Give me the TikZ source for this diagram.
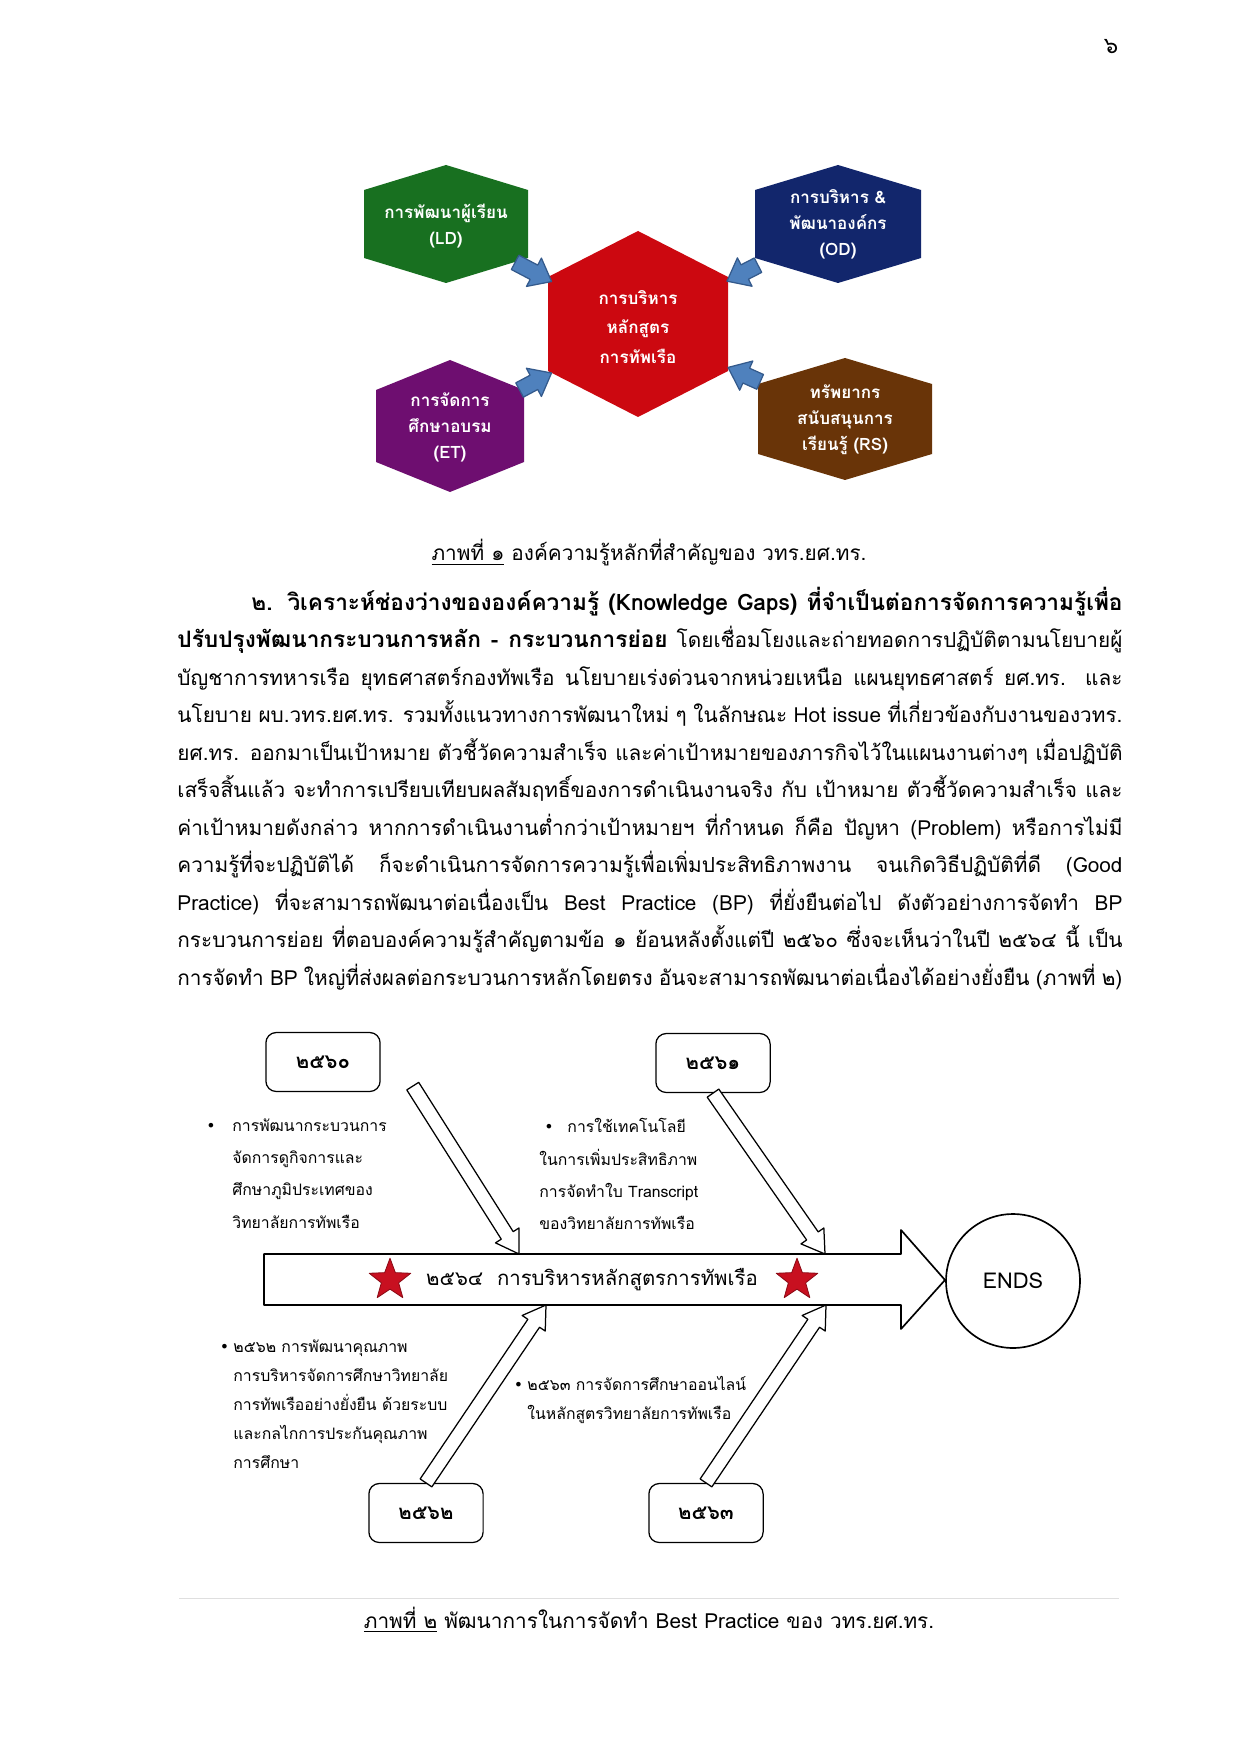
\documentclass[tikz,border=0pt]{standalone}
\usepackage{fontspec}
\setmainfont{Loma}[Script=Thai]
\newfontfamily\symfont{DejaVu Sans}
\usepackage{tikz}
\usetikzlibrary{calc,shapes.geometric}
\definecolor{ldgreen}{RGB}{24,112,32}
\definecolor{odnavy}{RGB}{18,38,108}
\definecolor{hubred}{RGB}{204,8,16}
\definecolor{etpurple}{RGB}{110,14,112}
\definecolor{rsbrown}{RGB}{105,52,8}
\definecolor{arrowblue}{RGB}{79,129,189}
\definecolor{arrowedge}{RGB}{52,90,140}
\definecolor{starred}{RGB}{200,16,32}

\newcommand{\jline}[2]{\makebox[#1][s]{#2}}
\newcommand{\headfont}{\fontsize{10.9}{12}\selectfont\bfseries}
% style, from, to, shaft half width, head half width, head length
\newcommand{\blockarrow}[6]{%
  \coordinate (ba-a) at #2;
  \coordinate (ba-b) at #3;
  \coordinate (ba-h) at ($(ba-b)!#6!(ba-a)$);
  \draw[#1] ($(ba-a)!#4!90:(ba-b)$) -- ($(ba-h)!#4!90:(ba-b)$) -- ($(ba-h)!#5!90:(ba-b)$) -- (ba-b)
    -- ($(ba-h)!#5!-90:(ba-b)$) -- ($(ba-h)!#4!-90:(ba-b)$) -- ($(ba-a)!#4!-90:(ba-b)$) -- cycle;
}

\begin{document}
\begin{tikzpicture}[x=0.16922mm,y=-0.16922mm,line join=round,
  hextext/.style={text=white,font=\bfseries\fontsize{8.2}{12.5}\selectfont,align=center},
  yearbox/.style={draw,line width=0.6pt,rounded corners=5pt,minimum width=55pt,minimum height=28.4pt,font=\bfseries\fontsize{9.8}{12}\selectfont},
  note/.style={anchor=north west,align=left,inner sep=0pt,font=\fontsize{7.6}{15.6}\selectfont},
  redstar/.style={star,star points=5,star point ratio=2.4,fill=starred,draw=starred!70!black,minimum size=21pt,inner sep=0pt},
  caption/.style={font=\fontsize{10}{12}\selectfont}]
  \useasboundingbox (0,0) rectangle (1241,1754);
  \fill[white] (0,0) rectangle (1241,1754);

  \node[font=\fontsize{11}{13}\selectfont] (pageno) at (1111,47) {๖};

  % figure 1
  \foreach \cx/\cy/\w/\h/\s/\col in {446/224/82/59/34/ldgreen, 838/224/83/59/34/odnavy, 638/324/90/93/47/hubred, 450/426/74/66/36/etpurple, 845/419/87/61/35/rsbrown}
    \fill[\col] (\cx-\w,\cy-\s) -- (\cx,\cy-\h) -- (\cx+\w,\cy-\s) -- (\cx+\w,\cy+\s) -- (\cx,\cy+\h) -- (\cx-\w,\cy+\s) -- cycle;
  \node[hextext] (ld) at (446,226) {การพัฒนาผู้เรียน\\(LD)};
  \node[hextext] (od) at (838,224) {การบริหาร \&\\พัฒนาองค์กร\\(OD)};
  \node[hextext,font=\bfseries\fontsize{8.2}{14.4}\selectfont] (hub) at (638,327) {การบริหาร\\หลักสูตร\\การทัพเรือ};
  \node[hextext] (et) at (450,427) {การจัดการ\\ศึกษาอบรม\\(ET)};
  \node[hextext] (rs) at (845,420) {ทรัพยากร\\สนับสนุนการ\\เรียนรู้ (RS)};
  \foreach \from/\a/\b in {ld/0.36/0.55, od/0.40/0.555, et/0.37/0.54, rs/0.41/0.565}
    {\blockarrow{fill=arrowblue,draw=arrowedge,line width=0.6pt}{($(\from)!\a!(hub)$)}{($(\from)!\b!(hub)$)}{3.9pt}{7.7pt}{9.6pt}}

  \node[caption] (cap1) at (649,553) {\underline{ภาพที่ ๑} องค์ความรู้หลักที่สำคัญของ วทร.ยศ.ทร.};

  % text
  \foreach \i/\x/\w/\txt in {
    1/251/419.4pt/{\headfont ๒. วิเคราะห์ช่องว่างขององค์ความรู้ (Knowledge Gaps) ที่จำเป็นต่อการจัดการความรู้เพื่อ},
    2/177/455pt/{{\headfont ปรับปรุงพัฒนากระบวนการหลัก - กระบวนการย่อย} โดยเชื่อมโยงและถ่ายทอดการปฏิบัติตามนโยบายผู้},
    3/177/455pt/{บัญชาการทหารเรือ ยุทธศาสตร์กองทัพเรือ นโยบายเร่งด่วนจากหน่วยเหนือ แผนยุทธศาสตร์ ยศ.ทร. และ},
    4/177/455pt/{นโยบาย ผบ.วทร.ยศ.ทร. รวมทั้งแนวทางการพัฒนาใหม่ ๆ ในลักษณะ Hot issue ที่เกี่ยวข้องกับงานของวทร.},
    5/177/455pt/{ยศ.ทร. ออกมาเป็นเป้าหมาย ตัวชี้วัดความสำเร็จ และค่าเป้าหมายของภารกิจไว้ในแผนงานต่างๆ เมื่อปฏิบัติ},
    6/177/455pt/{เสร็จสิ้นแล้ว จะทำการเปรียบเทียบผลสัมฤทธิ์ของการดำเนินงานจริง กับ เป้าหมาย ตัวชี้วัดความสำเร็จ และ},
    7/177/455pt/{ค่าเป้าหมายดังกล่าว หากการดำเนินงานต่ำกว่าเป้าหมายฯ ที่กำหนด ก็คือ ปัญหา (Problem) หรือการไม่มี},
    8/177/455pt/{ความรู้ที่จะปฏิบัติได้ ก็จะดำเนินการจัดการความรู้เพื่อเพิ่มประสิทธิภาพงาน จนเกิดวิธีปฏิบัติที่ดี (Good},
    9/177/455pt/{Practice) ที่จะสามารถพัฒนาต่อเนื่องเป็น Best Practice (BP) ที่ยั่งยืนต่อไป ดังตัวอย่างการจัดทำ BP},
    10/177/455pt/{กระบวนการย่อย ที่ตอบองค์ความรู้สำคัญตามข้อ ๑ ย้อนหลังตั้งแต่ปี ๒๕๖๐ ซึ่งจะเห็นว่าในปี ๒๕๖๔ นี้ เป็น},
    11/177/455pt/{การจัดทำ BP ใหญ่ที่ส่งผลต่อกระบวนการหลักโดยตรง อันจะสามารถพัฒนาต่อเนื่องได้อย่างยั่งยืน (ภาพที่ ๒)}}
    \node[anchor=base west,inner sep=0pt,font=\fontsize{10}{12}\selectfont] (body\i) at (\x,{610+37.5*(\i-1)}) {\jline{\w}{\txt}};

  % figure 2
  \draw[line width=0.8pt,fill=white] (264,1254) -- (901,1254) -- (901,1230) -- (945,1280) -- (901,1329) -- (901,1305) -- (264,1305) -- cycle;
  \node[font=\fontsize{9.8}{12}\selectfont] (goal) at (592,1280) {๒๕๖๔\ \ การบริหารหลักสูตรการทัพเรือ};
  \node[redstar] (star1) at (390,1280) {};
  \node[redstar] (star2) at (797,1280) {};
  \node[draw,circle,line width=0.8pt,minimum size=64.5pt,font=\fontsize{10.5}{13}\selectfont] (ends) at (1013,1281) {ENDS};

  \node[yearbox] (y60) at (323,1062) {๒๕๖๐};
  \node[yearbox] (y61) at (713,1063) {๒๕๖๑};
  \node[yearbox] (y62) at (426,1513) {๒๕๖๒};
  \node[yearbox] (y63) at (706,1513) {๒๕๖๓};
  \coordinate (tip60) at (519,1254);
  \coordinate (tip61) at (825,1254);
  \coordinate (tip62) at (546,1305);
  \coordinate (tip63) at (826,1305);
  \blockarrow{draw,fill=white,line width=0.6pt}{($(y60.south east)+(32,-6)$)}{(tip60)}{3.4pt}{6.7pt}{10.6pt}
  \blockarrow{draw,fill=white,line width=0.6pt}{(y61.south)}{(tip61)}{3.4pt}{6.7pt}{10.6pt}
  \blockarrow{draw,fill=white,line width=0.6pt}{(y62.north)}{(tip62)}{3.4pt}{6.7pt}{10.6pt}
  \blockarrow{draw,fill=white,line width=0.6pt}{(y63.north)}{(tip63)}{3.4pt}{6.7pt}{10.6pt}

  \node[note] (n60) at (232,1118) {\llap{{\symfont •}\hspace{8pt}}การพัฒนากระบวนการ\\จัดการดูกิจการและ\\ศึกษาภูมิประเทศของ\\วิทยาลัยการทัพเรือ};
  \node[note] (n61) at (539,1118) {\makebox[13.5pt][l]{\hspace{2.4pt}\symfont •}การใช้เทคโนโลยี\\ในการเพิ่มประสิทธิภาพ\\การจัดทำใบ Transcript\\ของวิทยาลัยการทัพเรือ};
  \node[note,font=\fontsize{7.6}{14}\selectfont] (n62) at (233,1339) {\llap{{\symfont •}\hspace{2pt}}๒๕๖๒ การพัฒนาคุณภาพ\\การบริหารจัดการศึกษาวิทยาลัย\\การทัพเรืออย่างยั่งยืน ด้วยระบบ\\และกลไกการประกันคุณภาพ\\การศึกษา};
  \node[note,font=\fontsize{7.6}{14}\selectfont] (n63) at (527,1376) {\llap{{\symfont •}\hspace{2pt}}๒๕๖๓ การจัดการศึกษาออนไลน์\\ในหลักสูตรวิทยาลัยการทัพเรือ};

  \draw[gray!25] (179,1598) -- (1119,1598);
  \node[caption] (cap2) at (649,1620) {\underline{ภาพที่ ๒} พัฒนาการในการจัดทำ Best Practice ของ วทร.ยศ.ทร.};
\end{tikzpicture}
\end{document}
